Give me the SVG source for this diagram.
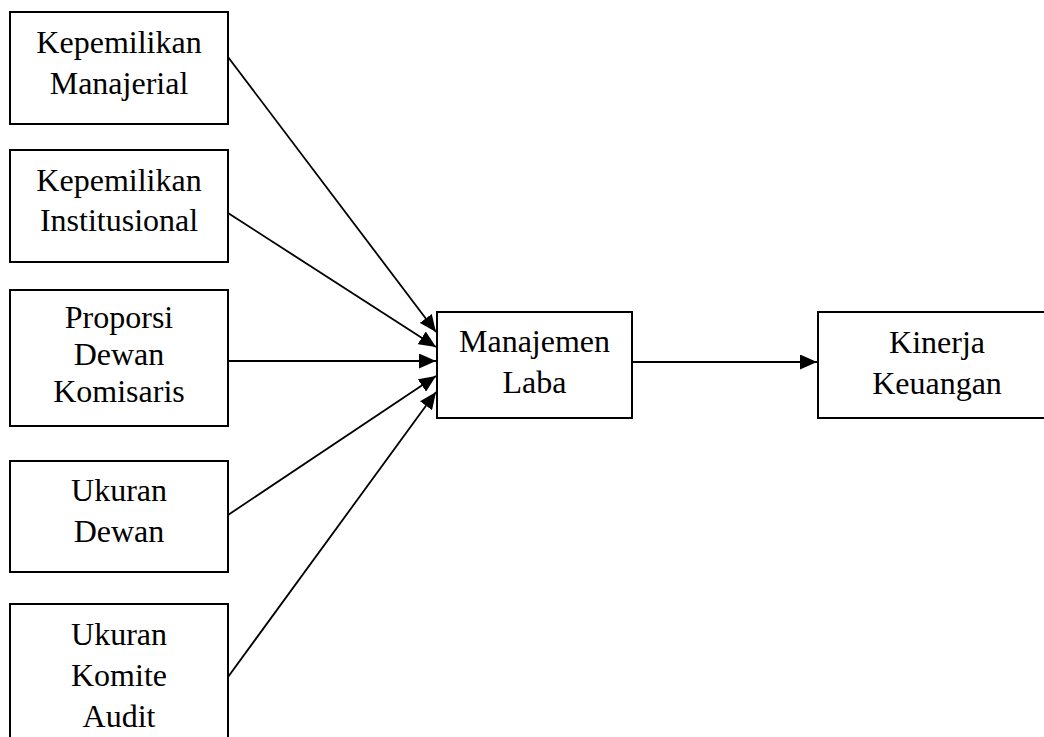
<svg xmlns="http://www.w3.org/2000/svg" width="1044" height="737" viewBox="0 0 1044 737">
<style>
.box{fill:#fff;stroke:#000;stroke-width:2}
.t{font-family:"Liberation Serif","Times New Roman",serif;font-size:32px;fill:#000;text-anchor:middle}
.c{stroke:#000;stroke-width:1.8;fill:none;marker-end:url(#ah)}
</style>
<defs>
<marker id="ah" markerUnits="userSpaceOnUse" markerWidth="17" markerHeight="15" refX="17" refY="7.5" orient="auto">
<path d="M0,0 L17,7.5 L0,15 Z" fill="#000"/>
</marker>
</defs>
<rect width="1044" height="737" fill="#fff"/>
<g id="connectors">
<line class="c" x1="228" y1="57" x2="436" y2="332"/>
<line class="c" x1="228" y1="213" x2="436" y2="347"/>
<line class="c" x1="228" y1="361" x2="436" y2="361"/>
<line class="c" x1="228" y1="515" x2="436" y2="376"/>
<line class="c" x1="228" y1="677" x2="436" y2="392"/>
<line class="c" x1="633" y1="362" x2="817" y2="362"/>
</g>
<g id="n1"><rect class="box" x="10" y="12" width="218" height="112"/>
<text class="t" x="119" y="53">Kepemilikan</text><text class="t" x="119" y="94">Manajerial</text></g>
<g id="n2"><rect class="box" x="10" y="150" width="218" height="112"/>
<text class="t" x="119" y="191">Kepemilikan</text><text class="t" x="119" y="231">Institusional</text></g>
<g id="n3"><rect class="box" x="10" y="290" width="218" height="136"/>
<text class="t" x="119" y="328">Proporsi</text><text class="t" x="119" y="365">Dewan</text><text class="t" x="119" y="402">Komisaris</text></g>
<g id="n4"><rect class="box" x="10" y="461" width="218" height="111"/>
<text class="t" x="119" y="501">Ukuran</text><text class="t" x="119" y="542">Dewan</text></g>
<g id="n5"><rect class="box" x="10" y="604" width="218" height="150"/>
<text class="t" x="119" y="645">Ukuran</text><text class="t" x="119" y="686">Komite</text><text class="t" x="119" y="727">Audit</text></g>
<g id="n6"><rect class="box" x="437" y="312" width="195" height="106"/>
<text class="t" x="534.5" y="352">Manajemen</text><text class="t" x="534.5" y="393">Laba</text></g>
<g id="n7"><rect class="box" x="818" y="312" width="238" height="106"/>
<text class="t" x="937" y="353">Kinerja</text><text class="t" x="937" y="394">Keuangan</text></g>
</svg>
